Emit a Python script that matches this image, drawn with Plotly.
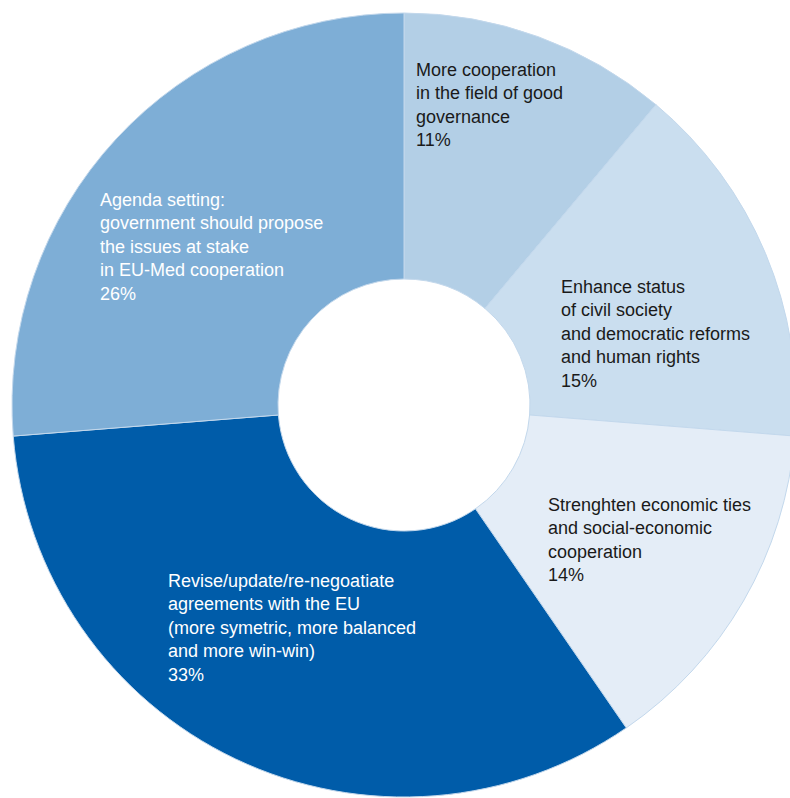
import plotly.graph_objects as go

# Survey answers, clockwise from 12 o'clock
labels = [
    "More cooperation<br>in the field of good<br>governance",
    "Enhance status<br>of civil society<br>and democratic reforms<br>and human rights",
    "Strenghten economic ties<br>and social-economic<br>cooperation",
    "Revise/update/re-negoatiate<br>agreements with the EU<br>(more symetric, more balanced<br>and more win-win)",
    "Agenda setting:<br>government should propose<br>the issues at stake<br>in EU-Med cooperation",
]
values = [11, 15, 14, 33, 26]

colors = ["#b3cfe6", "#cadeef", "#e4edf7", "#005ca9", "#7eaed6"]
text_colors = ["#1a1a1a", "#1a1a1a", "#1a1a1a", "#ffffff", "#ffffff"]

# Label anchor points in pixels: left edge, first-line baseline
label_px = [(415, 76), (560, 293), (547, 511), (167, 587), (99, 206)]

# The ring runs slightly past the right edge of the page, so the canvas
# is a little wider than the visible area and the overflow is hidden.
W, H = 800, 798
CX, CY, R = 404, 405, 392
FONT = 18

fig = go.Figure(
    go.Pie(
        values=values,
        labels=[l.replace("<br>", " ") for l in labels],
        sort=False,
        direction="clockwise",
        rotation=0,
        hole=126 / R,
        textinfo="none",
        hoverinfo="label+percent",
        marker=dict(colors=colors, line=dict(color="#c3d8ec", width=1)),
        domain=dict(
            x=[(CX - R) / W, (CX + R) / W],
            y=[1 - (CY + R) / H, 1 - (CY - R) / H],
        ),
        showlegend=False,
    )
)

for lab, val, col, (px, py) in zip(labels, values, text_colors, label_px):
    fig.add_annotation(
        x=px / W,
        y=1 - (py - 17) / H,
        xref="paper",
        yref="paper",
        xanchor="left",
        yanchor="top",
        align="left",
        showarrow=False,
        text=f"{lab}<br>{val}%",
        font=dict(family="Liberation Sans, Arial, sans-serif", size=FONT, color=col),
        borderpad=0,
    )

fig.update_layout(
    width=W,
    height=H,
    margin=dict(l=0, r=0, t=0, b=0),
    paper_bgcolor="white",
    plot_bgcolor="white",
)

fig.write_html(
    "out.html",
    post_script="document.documentElement.style.overflow='hidden';"
    "document.body.style.overflow='hidden';",
)
